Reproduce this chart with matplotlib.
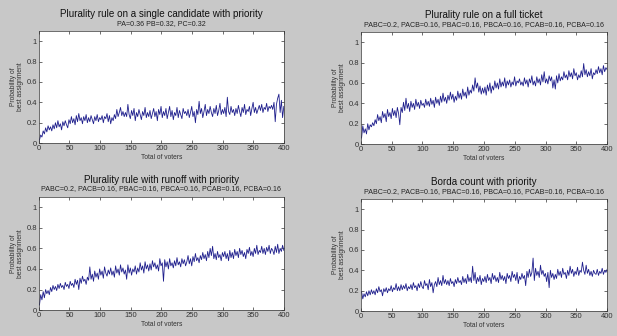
import numpy as np
import matplotlib
matplotlib.use("Agg")
import matplotlib.pyplot as plt

plt.rcParams['font.family'] = ['Liberation Sans', 'DejaVu Sans']

# voters axis (200 sampled points, 1..400)
voters = np.linspace(1, 400, 200)

single = [0.03, 0.08, 0.06, 0.12, 0.09, 0.15, 0.11, 0.17, 0.13, 0.16,
          0.12, 0.18, 0.14, 0.2, 0.15, 0.22, 0.16, 0.19, 0.13, 0.21,
          0.17, 0.22, 0.18, 0.15, 0.23, 0.19, 0.26, 0.2, 0.24, 0.18,
          0.27, 0.21, 0.29, 0.22, 0.25, 0.19, 0.26, 0.22, 0.28, 0.2,
          0.25, 0.21, 0.27, 0.23, 0.19, 0.26, 0.22, 0.28, 0.21, 0.25,
          0.23, 0.27, 0.2, 0.26, 0.24, 0.29, 0.21, 0.27, 0.19, 0.25,
          0.22, 0.28, 0.24, 0.33, 0.26, 0.3, 0.35, 0.27, 0.31, 0.26,
          0.3, 0.26, 0.38, 0.28, 0.24, 0.32, 0.27, 0.34, 0.22, 0.3,
          0.26, 0.33, 0.28, 0.23, 0.31, 0.27, 0.35, 0.25, 0.3, 0.26,
          0.32, 0.24, 0.29, 0.34, 0.26, 0.31, 0.22, 0.33, 0.28, 0.36,
          0.25, 0.31, 0.27, 0.34, 0.24, 0.3, 0.36, 0.26, 0.32, 0.23,
          0.3, 0.27, 0.35, 0.25, 0.32, 0.28, 0.24, 0.34, 0.29, 0.31,
          0.27, 0.33, 0.25, 0.3, 0.36, 0.26, 0.31, 0.2, 0.33, 0.28,
          0.41, 0.29, 0.34, 0.25, 0.31, 0.38, 0.27, 0.33, 0.29, 0.36,
          0.3, 0.26, 0.34, 0.29, 0.37, 0.27, 0.32, 0.39, 0.28, 0.33,
          0.29, 0.35, 0.26, 0.45, 0.31, 0.28, 0.36, 0.3, 0.33, 0.27,
          0.34, 0.29, 0.37, 0.31, 0.26, 0.35, 0.3, 0.38, 0.28, 0.33,
          0.31, 0.36, 0.27, 0.34, 0.4, 0.3, 0.35, 0.29, 0.33, 0.37,
          0.32, 0.38, 0.3, 0.35, 0.33, 0.39, 0.31, 0.36, 0.34, 0.37,
          0.33, 0.4, 0.21, 0.38, 0.44, 0.48, 0.3, 0.42, 0.25, 0.36]

full_ticket = [0.06, 0.18, 0.11, 0.15, 0.1, 0.2, 0.14, 0.19, 0.17, 0.21,
               0.18, 0.24, 0.2, 0.29, 0.23, 0.27, 0.21, 0.32, 0.26, 0.3,
               0.22, 0.34, 0.27, 0.31, 0.25, 0.35, 0.28, 0.33, 0.26, 0.36,
               0.3, 0.19, 0.36, 0.31, 0.41, 0.33, 0.45, 0.35, 0.4, 0.32,
               0.42, 0.36, 0.4, 0.34, 0.44, 0.37, 0.41, 0.35, 0.43, 0.38,
               0.4, 0.36, 0.44, 0.38, 0.42, 0.37, 0.45, 0.39, 0.43, 0.36,
               0.46, 0.4, 0.44, 0.38, 0.47, 0.41, 0.5, 0.42, 0.46, 0.4,
               0.48, 0.43, 0.51, 0.44, 0.49, 0.41, 0.47, 0.43, 0.52, 0.45,
               0.5, 0.44, 0.54, 0.47, 0.51, 0.45, 0.56, 0.48, 0.53, 0.5,
               0.58, 0.52, 0.65, 0.55, 0.6, 0.51, 0.57, 0.49, 0.55, 0.5,
               0.56, 0.48, 0.58, 0.52, 0.6, 0.5, 0.57, 0.53, 0.62, 0.55,
               0.6, 0.54, 0.64, 0.56, 0.61, 0.57, 0.65, 0.55, 0.62, 0.58,
               0.63, 0.56, 0.61, 0.58, 0.66, 0.57, 0.62, 0.6, 0.64, 0.58,
               0.61, 0.57, 0.65, 0.59, 0.63, 0.56, 0.64, 0.6, 0.67, 0.58,
               0.62, 0.57, 0.66, 0.6, 0.64, 0.58, 0.68, 0.61, 0.71, 0.6,
               0.64, 0.59, 0.67, 0.62, 0.66, 0.55, 0.63, 0.54, 0.67, 0.6,
               0.69, 0.62, 0.66, 0.63, 0.71, 0.65, 0.68, 0.63, 0.72, 0.66,
               0.7, 0.64, 0.74, 0.67, 0.7, 0.63, 0.68, 0.65, 0.72, 0.66,
               0.79, 0.68, 0.73, 0.66, 0.71, 0.67, 0.74, 0.64, 0.7, 0.68,
               0.73, 0.69, 0.76, 0.7, 0.74, 0.68, 0.77, 0.71, 0.75, 0.73]

runoff = [0.05, 0.15, 0.1, 0.18, 0.12, 0.2, 0.16, 0.19, 0.15, 0.22,
          0.18, 0.24, 0.2, 0.23, 0.19, 0.25, 0.21, 0.26, 0.22, 0.24,
          0.2, 0.27, 0.23, 0.25, 0.21, 0.28, 0.24, 0.26, 0.22, 0.3,
          0.25, 0.29, 0.2, 0.31, 0.26, 0.33, 0.28, 0.3, 0.25, 0.32,
          0.29, 0.42, 0.3, 0.35, 0.28, 0.38, 0.32, 0.36, 0.3, 0.4,
          0.34, 0.38, 0.31, 0.42, 0.36, 0.33, 0.39, 0.35, 0.41, 0.34,
          0.38, 0.32, 0.43, 0.36, 0.4, 0.34, 0.44, 0.37, 0.41, 0.35,
          0.39, 0.3, 0.44, 0.36, 0.41, 0.34, 0.4, 0.37, 0.43, 0.35,
          0.41, 0.37, 0.46, 0.39, 0.43, 0.36, 0.47, 0.4, 0.44, 0.38,
          0.45, 0.39, 0.48, 0.42, 0.46, 0.4, 0.44, 0.38, 0.5, 0.43,
          0.46, 0.28, 0.49, 0.42, 0.47, 0.4, 0.5, 0.43, 0.46, 0.41,
          0.48, 0.43, 0.51, 0.44, 0.47, 0.42, 0.5, 0.45, 0.49, 0.43,
          0.47, 0.53, 0.45, 0.5, 0.43, 0.52, 0.47, 0.55, 0.48, 0.51,
          0.46, 0.53, 0.49, 0.56, 0.5, 0.54, 0.48, 0.57, 0.51, 0.6,
          0.53, 0.62, 0.5, 0.55, 0.49, 0.57, 0.51, 0.54, 0.48, 0.56,
          0.52, 0.57, 0.5, 0.55, 0.48, 0.58, 0.51, 0.56, 0.5, 0.59,
          0.53, 0.57, 0.51, 0.6, 0.54, 0.58, 0.52, 0.56, 0.5, 0.59,
          0.55, 0.61, 0.53, 0.57, 0.52, 0.6, 0.55, 0.63, 0.54, 0.58,
          0.56, 0.62, 0.55, 0.6, 0.54, 0.61, 0.57, 0.63, 0.55, 0.6,
          0.58, 0.54, 0.62, 0.56, 0.64, 0.55, 0.6, 0.57, 0.63, 0.58]

borda = [0.19, 0.12, 0.17, 0.14, 0.19, 0.15, 0.2, 0.16, 0.21, 0.17,
         0.2, 0.16, 0.22, 0.18, 0.24, 0.19, 0.21, 0.15, 0.22, 0.19,
         0.23, 0.18, 0.22, 0.2, 0.25, 0.19, 0.23, 0.21, 0.27, 0.2,
         0.24, 0.2, 0.26, 0.21, 0.25, 0.22, 0.27, 0.2, 0.24, 0.22,
         0.26, 0.21, 0.28, 0.23, 0.25, 0.2, 0.27, 0.23, 0.29, 0.24,
         0.22, 0.3, 0.25, 0.27, 0.21, 0.31, 0.24, 0.28, 0.18, 0.26,
         0.29, 0.24, 0.33, 0.26, 0.3, 0.25, 0.35, 0.27, 0.31, 0.26,
         0.3, 0.25, 0.32, 0.27, 0.29, 0.24, 0.31, 0.27, 0.33, 0.28,
         0.3, 0.26, 0.34, 0.28, 0.32, 0.27, 0.36, 0.29, 0.33, 0.28,
         0.44, 0.3, 0.38, 0.27, 0.33, 0.29, 0.35, 0.26, 0.32, 0.29,
         0.34, 0.28, 0.36, 0.3, 0.33, 0.27, 0.37, 0.31, 0.35, 0.29,
         0.33, 0.28, 0.38, 0.31, 0.35, 0.3, 0.34, 0.27, 0.37, 0.32,
         0.35, 0.29, 0.39, 0.33, 0.36, 0.3, 0.38, 0.27, 0.34, 0.31,
         0.37, 0.32, 0.35, 0.25, 0.39, 0.33, 0.41, 0.34, 0.38, 0.52,
         0.3, 0.42, 0.35, 0.39, 0.33, 0.45, 0.36, 0.4, 0.34, 0.37,
         0.29, 0.38, 0.23, 0.4, 0.33, 0.37, 0.31, 0.36, 0.32, 0.41,
         0.35, 0.39, 0.33, 0.42, 0.36, 0.38, 0.32, 0.4, 0.35, 0.44,
         0.37, 0.41, 0.34, 0.39, 0.36, 0.43, 0.35, 0.4, 0.38, 0.48,
         0.4, 0.36, 0.45, 0.37, 0.41, 0.35, 0.39, 0.34, 0.4, 0.37,
         0.36, 0.41, 0.35, 0.39, 0.37, 0.42, 0.36, 0.4, 0.38, 0.41]

titles = ["Plurality rule on a single candidate with priority",
          "Plurality rule on a full ticket",
          "Plurality rule with runoff with priority",
          "Borda count with priority"]
subtitle_3 = "PA=0.36 PB=0.32, PC=0.32"
subtitle_6 = "PABC=0.2, PACB=0.16, PBAC=0.16, PBCA=0.16, PCAB=0.16, PCBA=0.16"
subtitles = [subtitle_3, subtitle_6, subtitle_6, subtitle_6]
series = [single, full_ticket, runoff, borda]

bg = '#c8c8c8'
fig = plt.figure(figsize=(6.17, 3.36), dpi=100, facecolor=bg)

# left, bottom, width, height in figure fraction
rects = [[0.063, 0.574, 0.397, 0.334],
         [0.585, 0.571, 0.399, 0.334],
         [0.063, 0.077, 0.397, 0.337],
         [0.585, 0.074, 0.399, 0.334]]

for i in range(4):
    ax = fig.add_axes(rects[i])
    ax.plot(voters, series[i], color='#1e1e8c', lw=0.6)
    ax.set_xlim(0, 400)
    ax.set_ylim(0, 1.1)
    ax.set_xticks(np.arange(0, 401, 50))
    ax.set_yticks([0, 0.2, 0.4, 0.6, 0.8, 1])
    ax.set_yticklabels(['0', '0.2', '0.4', '0.6', '0.8', '1'])
    ax.tick_params(direction='in', length=2, width=0.5, labelsize=5.5,
                   colors='#333333', top=True, right=True, pad=1.5)
    for s in ax.spines.values():
        s.set_linewidth(0.5)
        s.set_color('#333333')
    ax.set_xlabel('Total of voters', fontsize=4.8, color='#333333', labelpad=1)
    ax.set_ylabel('Probability of\nbest assignment', fontsize=4.8,
                  color='#333333', labelpad=2, linespacing=0.95)
    ax.text(0.5, 1.15, titles[i], transform=ax.transAxes, ha='center',
            va='center', fontsize=7.1, color='#111111')
    ax.text(0.5, 1.07, subtitles[i], transform=ax.transAxes, ha='center',
            va='center', fontsize=5.1, color='#222222')

plt.savefig('out.png', dpi=100, facecolor=bg)
